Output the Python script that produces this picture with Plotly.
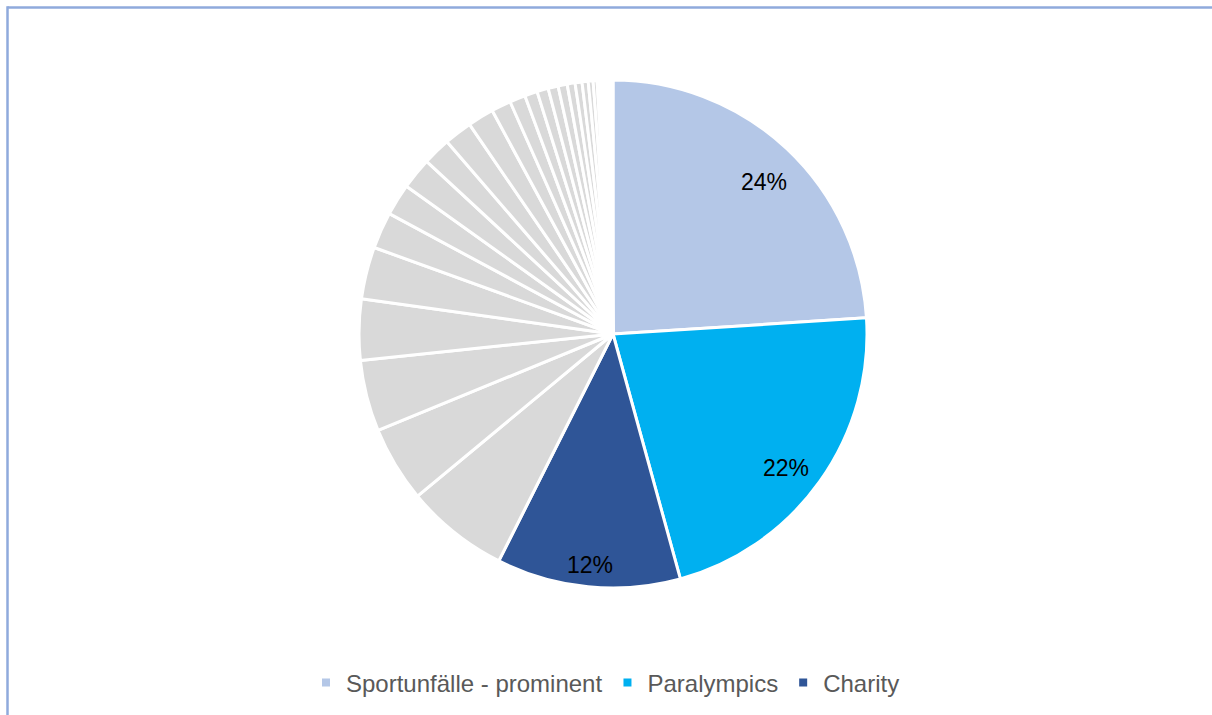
import math
import plotly.graph_objects as go

# ---- data ----
main_labels = ["Sportunfälle - prominent", "Paralympics", "Charity"]
main_values = [24.0, 21.75, 11.7]
main_colors = ["#B4C7E7", "#00B0F0", "#2F5597"]

other_values = [6.56, 4.83, 4.53, 3.89, 3.31, 2.33, 2.03, 2.0, 1.78, 1.78, 1.67,
                1.25, 1.0, 0.81, 0.72, 0.64, 0.58, 0.5, 0.44, 0.39, 0.31, 0.25,
                0.19, 0.17, 0.14, 0.14, 0.11, 0.11, 0.08, 0.06]
other_labels = [f"Sonstige {i + 1}" for i in range(len(other_values))]
other_color = "#D9D9D9"

labels = main_labels + other_labels
values = main_values + other_values
colors = main_colors + [other_color] * len(other_values)

# ---- layout constants ----
W, H = 1212, 715
cx, cy, R = 613, 334, 254
label_radius = [0.845, 0.86, 0.915]    # radial position of the percent labels (fraction of R)
label_shift = [0.03, 0.04, 0.0]        # small angular offset (radians) of the labels
FONT = "Liberation Sans, Arial, sans-serif"
BORDER = "#8FAADC"

fig = go.Figure()
fig.add_trace(go.Pie(
    labels=labels,
    values=values,
    sort=False,
    direction="clockwise",
    rotation=0,
    marker=dict(colors=colors, line=dict(color="white", width=3)),
    textinfo="none",
    showlegend=False,
    hoverinfo="label+percent",
    domain=dict(x=[(cx - R) / W, (cx + R) / W], y=[1 - (cy + R) / H, 1 - (cy - R) / H]),
))

# percent labels for the three named slices, placed from the data
total = sum(values)
annotations = []
cum = 0.0
for v, rf, sh in zip(main_values, label_radius, label_shift):
    mid = (cum + v / 2) / total * 2 * math.pi + sh
    cum += v
    px = cx + rf * R * math.sin(mid)
    py = cy - rf * R * math.cos(mid)
    annotations.append(dict(
        x=px / W, y=1 - py / H, xref="paper", yref="paper",
        text=f"{round(100 * v / total)}%", showarrow=False,
        xanchor="center", yanchor="middle",
        font=dict(family=FONT, size=23, color="#000000"),
    ))

# legend proxies for the three named categories
for lab, col in zip(main_labels, main_colors):
    fig.add_trace(go.Scatter(
        x=[None], y=[None], mode="markers", name=lab,
        marker=dict(symbol="square", size=8, color=col),
        showlegend=True,
    ))

fig.update_layout(
    width=W, height=H,
    margin=dict(l=0, r=0, t=0, b=0),
    paper_bgcolor="white",
    plot_bgcolor="white",
    xaxis=dict(visible=False),
    yaxis=dict(visible=False),
    annotations=annotations,
    legend=dict(
        orientation="h",
        x=306 / W, xanchor="left",
        y=1 - 683 / H, yanchor="middle",
        font=dict(family=FONT, size=24, color="#595959"),
        bgcolor="rgba(0,0,0,0)",
        itemclick=False,
    ),
    shapes=[
        dict(type="line", xref="paper", yref="paper",
             x0=7.5 / W, x1=1.0, y0=1 - 7.5 / H, y1=1 - 7.5 / H,
             line=dict(color=BORDER, width=2.5), layer="above"),
        dict(type="line", xref="paper", yref="paper",
             x0=7.5 / W, x1=7.5 / W, y0=0.0, y1=1 - 6.3 / H,
             line=dict(color=BORDER, width=2.5), layer="above"),
    ],
)

fig.write_html(
    "out.html",
    config={"displayModeBar": False},
    post_script="document.body.style.margin='0';document.body.style.overflow='hidden';",
)
